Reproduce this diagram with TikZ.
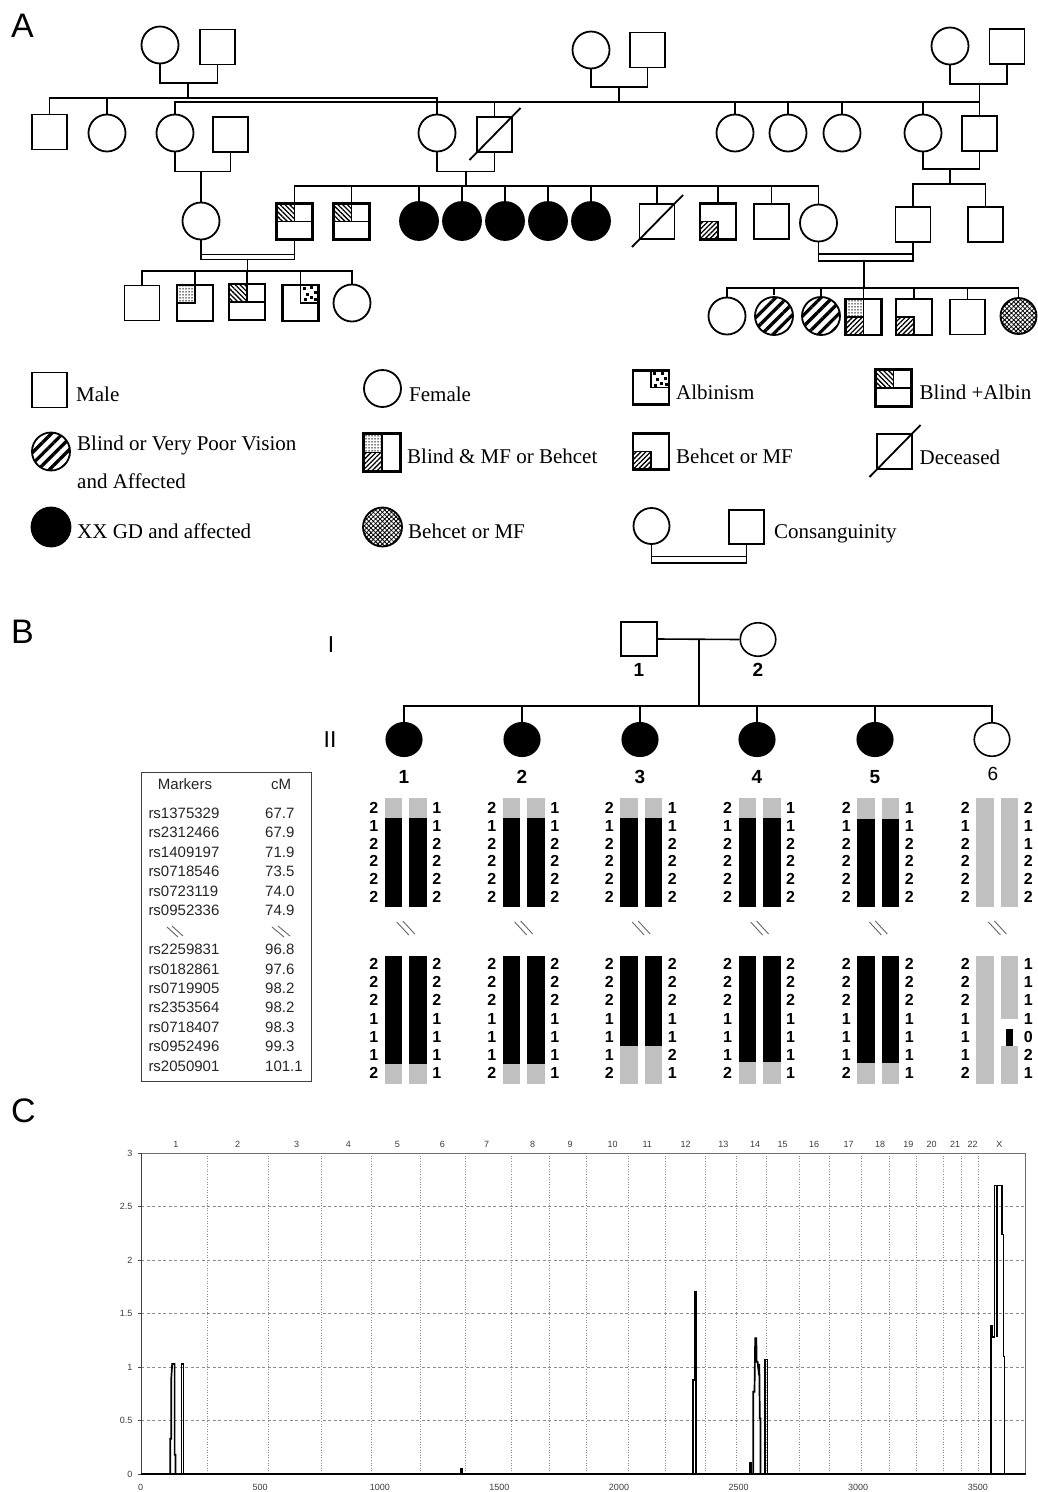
\documentclass[tikz,border=0pt]{standalone}
\usepackage{fontspec}
\setmainfont{Liberation Serif}
\newfontfamily\sansf{Liberation Sans}
\usetikzlibrary{patterns,patterns.meta,shapes.geometric}
\definecolor{hapgray}{RGB}{192,192,192}
\definecolor{gridgray}{RGB}{140,140,140}
\definecolor{txtgray}{RGB}{60,60,60}
\tikzset{
  pl/.style={line width=1.8pt},
  msq/.style={draw, rectangle, line width=1.8pt, minimum width=35pt, minimum height=35pt, inner sep=0pt},
  fci/.style={draw, circle, line width=1.8pt, minimum size=37pt, inner sep=0pt},
  aff/.style={fci, fill=black, minimum size=38pt},
  stripe/.style={fci, minimum size=38pt, pattern={Lines[angle=45,distance=8pt,line width=3.3pt]}},
  xhatch/.style={fci, pattern={Hatch[angle=45,distance=3.2pt,line width=0.8pt]}},
  lt/.style={anchor=base west, inner sep=0pt, font=\fontsize{21}{25}\selectfont},
  plab/.style={anchor=base west, inner sep=0pt, font=\sansf\fontsize{34}{40}\selectfont},
  bl/.style={line width=1.6pt},
  bsq/.style={draw, rectangle, line width=1.6pt, minimum width=36pt, minimum height=34pt, inner sep=0pt},
  bci/.style={draw, ellipse, line width=1.6pt, minimum width=35.5pt, minimum height=33.5pt, inner sep=0pt},
  gen/.style={inner sep=0pt, font=\sansf\fontsize{23}{27}\selectfont},
  idl/.style={inner sep=0pt, font=\sansf\bfseries\fontsize{19}{22}\selectfont},
  mk/.style={inner sep=0pt, anchor=west, font=\sansf\fontsize{15}{18}\selectfont, text=black!85},
  hn/.style={inner sep=0pt, font=\sansf\bfseries\fontsize{16}{19}\selectfont},
  slsh/.style={line width=0.9pt, black!60},
  hgrid/.style={gridgray, line width=0.6pt, dash pattern=on 3pt off 2.5pt},
  vgrid/.style={gridgray, line width=0.6pt, dash pattern=on 1pt off 1.6pt},
  ctxt/.style={inner sep=0pt, font=\sansf\fontsize{9}{11}\selectfont, text=txtgray},
  peak/.style={line width=1.7pt, line join=miter},
}
% quadrant symbols
\newcommand{\qBA}[1]{%
  \fill[pattern={Lines[angle=-45,distance=3.4pt,line width=1.3pt]}] (#1.north west) rectangle (#1.center);
  \draw[pl] (#1.west) -- (#1.east) (#1.north) -- (#1.center);
  \draw[pl] (#1.north west) rectangle (#1.south east);}
\newcommand{\qBeh}[1]{%
  \fill[pattern={Lines[angle=45,distance=3.4pt,line width=1.3pt]}] (#1.west) rectangle (#1.south);
  \draw[pl] (#1.west) -- (#1.center) -- (#1.south);
  \draw[pl] (#1.north west) rectangle (#1.south east);}
\newcommand{\qDot}[1]{%
  \fill[pattern={Dots[distance=3pt,radius=0.75pt]}] (#1.north west) rectangle (#1.center);
  \draw[pl] (#1.west) -- (#1.center) -- (#1.north);
  \draw[pl] (#1.north west) rectangle (#1.south east);}
\newcommand{\qAlb}[1]{%
  \begin{scope}[shift={(#1.north)}]
    \foreach \p/\q in {2/2, 9.5/1.5, 13/6.5, 5/8, 9/11.5, 13.5/13, 3/13.5} \fill (\p,\q) rectangle ++(3.2,3.2);
  \end{scope}
  \draw[pl] (#1.north) -- (#1.center) -- (#1.east);
  \draw[pl] (#1.north west) rectangle (#1.south east);}
\newcommand{\qBMF}[1]{%
  \fill[pattern={Dots[distance=3pt,radius=0.75pt]}] (#1.north west) rectangle (#1.center);
  \fill[pattern={Lines[angle=45,distance=3.4pt,line width=1.3pt]}] (#1.west) rectangle (#1.south);
  \draw[pl] (#1.north) -- (#1.south) (#1.west) -- (#1.center);
  \draw[pl] (#1.north west) rectangle (#1.south east);}
\newcommand{\qDec}[1]{\draw[pl] (#1.center) ++(-25,25.5) -- ++(51,-52);}
% haplotype numbers: #1 index, #2 centre, #3 top-right list, #4 bottom-right list
\newcommand{\hapnums}[4]{%
  \foreach \v [count=\k from 0] in {2,1,2,2,2,2} \node[hn] (tl#1-\k) at (#2-32,808.3+17.7*\k) {\v};
  \foreach \v [count=\k from 0] in {#3} \node[hn] (tr#1-\k) at (#2+31,808.3+17.7*\k) {\v};
  \foreach \v [count=\k from 0] in {2,2,2,1,1,1,2} \node[hn] (bl#1-\k) at (#2-32,964+18.2*\k) {\v};
  \foreach \v [count=\k from 0] in {#4} \node[hn] (br#1-\k) at (#2+31,964+18.2*\k) {\v};
  \draw[slsh] (#2-9,922) -- (#2+3,935) (#2-3,921) -- (#2+9,934);}
\begin{document}
\begin{tikzpicture}[x=1pt,y=-1pt]
\useasboundingbox (0,0) rectangle (1037,1492);
\fill[white] (0,0) rectangle (1037,1492);

%================ PANEL A =================
\node[plab] (labA) at (11,37) {A};
% generation 1
\node[fci] (a1f) at (160,45) {};
\node[msq] (a1m) at (217.5,47) {};
\node[fci] (a2f) at (591,50) {};
\node[msq] (a2m) at (647.5,50) {};
\node[fci] (a3f) at (950,46) {};
\node[msq] (a3m) at (1007,46.5) {};
\draw[pl] (a1f.south) -- ++(0,18.5) -| (a1m.south);
\draw[pl] (a2f.south) -- ++(0,17.5) -| (a2m.south);
\draw[pl] (a3f.south) -- ++(0,18.5) -| (a3m.south);
% generation 2
\node[msq] (s21) at (49.5,132) {};
\node[fci] (s22) at (107,133) {};
\node[fci] (s23) at (175,133) {};
\node[msq] (s24) at (230.5,134.5) {};
\node[fci] (s25) at (437,133) {};
\node[msq] (s26) at (494.5,134.5) {};
\node[fci] (s27) at (735,133) {};
\node[fci] (s28) at (788,133) {};
\node[fci] (s29) at (842,133) {};
\node[fci] (s210) at (923,133) {};
\node[msq] (s211) at (979.5,133.5) {};
\qDec{s26}
\coordinate (j1) at (188,82);
\coordinate (j2) at (619,86);
\coordinate (j3) at (979.5,83);
\draw[pl] (j1) -- (j1 |- 0,98);
\draw[pl] (s21.north) |- (s25.north |- 0,98) -- (s25.north);
\draw[pl] (s22.north) -- (s22.north |- 0,98);
\draw[pl] (j2) -- (j2 |- 0,101.7);
\draw[pl] (s23.north) |- (s211.north |- 0,101.7);
\foreach \n in {s26,s27,s28,s29,s210} \draw[pl] (\n.north) -- (\n.north |- 0,101.7);
\draw[pl] (j3) -- (s211.north);
\draw[pl] (s23.south) -- ++(0,19) -| (s24.south);
\draw[pl] (s25.south) -- ++(0,19) -| (s26.south);
\draw[pl] (s210.south) -- ++(0,16.5) -| (s211.south);
% generation 3
\node[fci] (r31) at (201,221) {};
\node[msq] (r32) at (294.5,221.5) {};
\node[msq] (r33) at (351.5,221.5) {};
\node[aff] (r34) at (419,221) {};
\node[aff] (r35) at (462,221) {};
\node[aff] (r36) at (505,221) {};
\node[aff] (r37) at (548,221) {};
\node[aff] (r38) at (591,221) {};
\node[msq] (r39) at (657,221.5) {};
\node[msq] (r310) at (718,221.5) {};
\node[msq] (r311) at (771.5,221.5) {};
\node[fci] (r312) at (818.5,223) {};
\node[msq] (r313) at (913,224.5) {};
\node[msq] (r314) at (985.5,224.5) {};
\qBA{r32} \qBA{r33} \qDec{r39} \qBeh{r310}
\draw[pl] (r31.north) -- (r31.north |- 0,170.5);
\coordinate (j4) at (466,170.5);
\draw[pl] (j4) -- (j4 |- 0,186);
\draw[pl] (r32.north) |- (r312.north |- 0,186) -- (r312.north);
\foreach \n in {r33,r34,r35,r36,r37,r38,r39,r310,r311} \draw[pl] (\n.north) -- (\n.north |- 0,186);
\coordinate (j5) at (950,168);
\draw[pl] (j5) -- (j5 |- 0,184);
\draw[pl] (r313.north) |- (r314.north |- 0,184) -- (r314.north);
% consanguineous unions
\draw[pl] (r31.south) -- ++(0,19) -| (r32.south);
\draw[pl] (r31.south |- 0,254.5) -- (r32.south |- 0,254.5);
\draw[pl] (r312.south) -- ++(0,18.5) -| (r313.south);
\draw[pl] (r312.south |- 0,254) -- (r313.south |- 0,254);
% generation 4 (left)
\node[msq] (r41) at (142,303) {};
\node[msq] (r42) at (195,303) {};
\node[msq] (r43) at (247,302) {};
\node[msq] (r44) at (300.5,303) {};
\node[fci] (r45) at (352,303) {};
\qDot{r42} \qBA{r43} \qAlb{r44}
\coordinate (j6) at (247.5,258.5);
\draw[pl] (j6) -- (j6 |- 0,271);
\draw[pl] (r41.north) |- (r45.north |- 0,271) -- (r45.north);
\foreach \n in {r42,r43,r44} \draw[pl] (\n.north) -- (\n.north |- 0,271);
% generation 4 (right)
\node[fci] (r51) at (727,316) {};
\node[stripe] (r52) at (774,316) {};
\node[stripe] (r53) at (821,316) {};
\node[msq] (r54) at (863.5,317) {};
\node[msq] (r55) at (914,317) {};
\node[msq] (r56) at (967.5,317) {};
\node[xhatch, minimum size=36pt] (r57) at (1018.5,316) {};
\qBMF{r54} \qBeh{r55}
\coordinate (j7) at (864,260);
\draw[pl] (j7) -- (j7 |- 0,288);
\draw[pl] (r51.north) |- (r57.north |- 0,288) -- (r57.north);
\foreach \n in {r52,r53,r54,r55,r56} \draw[pl] (\n.north) -- (\n.north |- 0,288);

% legend
\node[msq] (lgM) at (49.5,390) {};
\node[lt] (tM) at (76,401.7) {Male};
\node[fci] (lgF) at (382.5,388.5) {};
\node[lt] (tF) at (409,401.7) {Female};
\node[msq, minimum height=33pt] (lgAlb) at (651,387.5) {};
\qAlb{lgAlb}
\node[lt] (tAlb) at (676,399.3) {Albinism};
\node[msq, minimum height=36pt] (lgBA) at (893.5,388) {};
\qBA{lgBA}
\node[lt] (tBA) at (919.5,399.3) {Blind +Albin};
\node[stripe] (lgBV) at (51,451.5) {};
\node[lt] (tBV1) at (77,450) {Blind or Very Poor Vision};
\node[lt] (tBV2) at (77,488.3) {and Affected};
\node[msq, minimum width=36pt, minimum height=37pt] (lgBMF) at (382,452.5) {};
\qBMF{lgBMF}
\node[lt] (tBMF) at (407,463.3) {Blind \& MF or Behcet};
\node[msq] (lgBeh) at (651,451.5) {};
\qBeh{lgBeh}
\node[lt] (tBeh) at (676,463.3) {Behcet or MF};
\node[msq] (lgDec) at (894.5,451.5) {};
\qDec{lgDec}
\node[lt] (tDec) at (919.5,464) {Deceased};
\node[aff, minimum size=39pt] (lgXX) at (51,527) {};
\node[lt] (tXX) at (77,538.3) {XX GD and affected};
\node[xhatch, minimum size=39pt] (lgBC) at (382.5,527) {};
\node[lt] (tBC) at (408,538.3) {Behcet or MF};
\node[fci, minimum size=36pt] (lgCF) at (651.5,526) {};
\node[msq, minimum height=34pt] (lgCM) at (746.5,527) {};
\draw[pl] (lgCF.south) -- ++(0,18) -| (lgCM.south);
\draw[pl] (lgCF.south |- 0,556.5) -- (lgCM.south |- 0,556.5);
\node[lt] (tC) at (774,538) {Consanguinity};

%================ PANEL B =================
\node[plab] (labB) at (11,643) {B};
\node[gen] (gI) at (331,645) {I};
\node[gen] (gII) at (330,740) {II};
\node[bsq] (bI1) at (639,639) {};
\node[bci] (bI2) at (758,639.5) {};
\draw[bl] (bI1.east) -- (bI2.west);
\coordinate (bj) at (698.7,639);
\draw[bl] (bj) -- (bj |- 0,706);
\foreach \n/\x in {1/404,2/522,3/640,4/757,5/875} \node[bci,fill=black] (bII\n) at (\x,739.5) {};
\node[bci] (bII6) at (992,739.5) {};
\draw[bl] (bII1.north) |- (bII6.north |- 0,706) -- (bII6.north);
\foreach \n in {2,...,5} \draw[bl] (bII\n.north) -- (bII\n.north |- 0,706);
\node[idl] (nI1) at (639,670) {1};
\node[idl] (nI2) at (758,670) {2};
\foreach \n/\x in {1/404,2/522,3/640,4/757,5/875} \node[idl] (nII\n) at (\x,777) {\n};
\node[inner sep=0pt, font=\sansf\fontsize{19}{22}\selectfont] (nII6) at (993,774) {6};

% marker table
\draw[line width=0.8pt, black!75] (141.7,772) rectangle (311.7,1081.7);
\node[inner sep=0pt, font=\sansf\fontsize{15}{18}\selectfont, text=black!85] (hMk) at (185,784) {Markers};
\node[inner sep=0pt, font=\sansf\fontsize{15}{18}\selectfont, text=black!85] (hcM) at (281,784) {cM};
\foreach \m/\v [count=\k from 0] in {rs1375329/67.7, rs2312466/67.9, rs1409197/71.9, rs0718546/73.5, rs0723119/74.0, rs0952336/74.9} {
  \node[mk] (mA\k) at (148.3,813.3+19.45*\k) {\m};
  \node[mk] (vA\k) at (265,813.3+19.45*\k) {\v};
}
\foreach \m/\v [count=\k from 7] in {rs2259831/96.8, rs0182861/97.6, rs0719905/98.2, rs2353564/98.2, rs0718407/98.3, rs0952496/99.3, rs2050901/101.1} {
  \node[mk] (mB\k) at (148.3,813.3+19.45*\k) {\m};
  \node[mk] (vB\k) at (265,813.3+19.45*\k) {\v};
}
\draw[slsh] (167,927) -- (178,937) (172,926) -- (183,936);
\draw[slsh] (272,927) -- (284,937) (278,926) -- (290,936);

% haplotype bars
\foreach \c/\tb/\bb in {405.8/818/1064.3, 523.7/818/1064.3, 641.2/818/1045.7, 759.6/818/1062.3, 878.3/819.3/1063.3} {
  \foreach \dx in {-21,3.5} {
    \fill[hapgray] (\c+\dx,798.3) rectangle (\c+\dx+17.5,\tb);
    \fill[black] (\c+\dx,\tb) rectangle (\c+\dx+17.5,906.7);
    \fill[black] (\c+\dx,955.7) rectangle (\c+\dx+17.5,\bb);
    \fill[hapgray] (\c+\dx,\bb) rectangle (\c+\dx+17.5,1084);
  }
}
\fill[hapgray] (976.4,798.3) rectangle (993.9,906.7);
\fill[hapgray] (1000.9,798.3) rectangle (1018.4,906.7);
\fill[hapgray] (976.4,955.7) rectangle (993.9,1084);
\fill[hapgray] (1000.9,955.7) rectangle (1018.4,1019.3);
\fill[black] (1006.2,1029) rectangle (1012.6,1045.7);
\fill[hapgray] (1000.9,1045.7) rectangle (1018.4,1084);
\hapnums{1}{405.8}{1,1,2,2,2,2}{2,2,2,1,1,1,1}
\hapnums{2}{523.7}{1,1,2,2,2,2}{2,2,2,1,1,1,1}
\hapnums{3}{641.2}{1,1,2,2,2,2}{2,2,2,1,1,2,1}
\hapnums{4}{759.6}{1,1,2,2,2,2}{2,2,2,1,1,1,1}
\hapnums{5}{878.3}{1,1,2,2,2,2}{2,2,2,1,1,1,1}
\hapnums{6}{997.4}{2,1,1,2,2,2}{1,1,1,1,0,2,1}

%================ PANEL C =================
\node[plab] (labC) at (11,1122) {C};
\begin{scope}[shift={(0,1474)}, y=106.9pt]
  \foreach \v in {0.5,1,1.5,2,2.5} \draw[hgrid] (141,\v) -- (1025.7,\v);
  \foreach \xx in {207.3,268.3,321.7,371.7,420,465,511,549.3,586.7,628.3,665,705.7,736.7,766.7,799,829.3,861.7,889.3,916,943.3,961.7,978.3}
    \draw[vgrid] (\xx,0) -- (\xx,3);
  \draw[gridgray!80!black, line width=0.8pt] (141,3) -- (1025.7,3) -- (1025.7,0);
  \draw[black!75, line width=1pt] (141,3) -- (141,0);
  \draw[black, line width=1.1pt] (141,0) -- (1025.7,0);
  \foreach \v in {0,0.5,1,1.5,2,2.5,3} {
    \draw[black!70, line width=0.8pt] (137.5,\v) -- (141,\v);
    \node[ctxt, anchor=east] (yl\v) at (132.5,\v) {\v};
  }
  \foreach \t/\xx in {1/176,2/237.7,3/296.7,4/348.3,5/397.3,6/442.3,7/486.7,8/532.7,9/570,10/612.7,11/647.3,12/685.7,13/723.3,14/755,15/782.7,16/814,17/848.7,18/880,19/908.3,20/931.7,21/955,22/972.7,X/999.3}
    \node[ctxt] (ch\t) at (\xx,3.087) {\t};
  \foreach \t [count=\k from 0] in {0,500,1000,1500,2000,2500,3000,3500}
    \node[ctxt] (xl\k) at (140.6+119.6*\k,-0.122) {\t};
  % peaks
  \draw[peak] (170.3,0) -- (170.3,0.33) -- (171.3,0.33) -- (171.3,0.9) -- (172.2,1.03) -- (174.6,1.03) -- (174.6,0.18) -- (175.4,0.18) -- (175.4,0);
  \draw[peak] (181.6,0) -- (181.6,1.03) -- (183.4,1.03) -- (183.4,0);
  \draw[peak] (461.2,0) -- (461.2,0.05) -- (462.2,0.05) -- (462.2,0);
  \draw[peak] (692.8,0) -- (692.8,0.88) -- (694.6,0.88) -- (694.6,1.70) -- (695.8,1.70) -- (695.8,0);
  \draw[peak] (749.7,0) -- (749.7,0.1) -- (750.7,0.1) -- (750.7,0);
  \draw[peak] (753.3,0) -- (753.3,0.77) -- (754.5,0.77) -- (755.2,1.27) -- (756.3,1.27) -- (756.6,1.05) -- (757.6,1.05) -- (758.4,0.98) -- (759.3,1.03) -- (759.8,0.52) -- (760.5,0.52) -- (760.5,0);
  \draw[peak] (765.3,0) -- (765.3,1.07) -- (767.5,1.07) -- (767.5,0);
  \draw[peak] (991.3,0) -- (991.3,1.39) -- (992.6,1.39) -- (992.6,1.28) -- (994.6,1.28) -- (994.6,2.70) -- (1002.3,2.70) -- (1002.3,2.24) -- (1003.4,2.24) -- (1003.4,1.1) -- (1004.4,1.1) -- (1004.4,0);
  \draw[peak] (996.8,2.70) -- (996.8,1.28);
\end{scope}
\end{tikzpicture}
\end{document}
